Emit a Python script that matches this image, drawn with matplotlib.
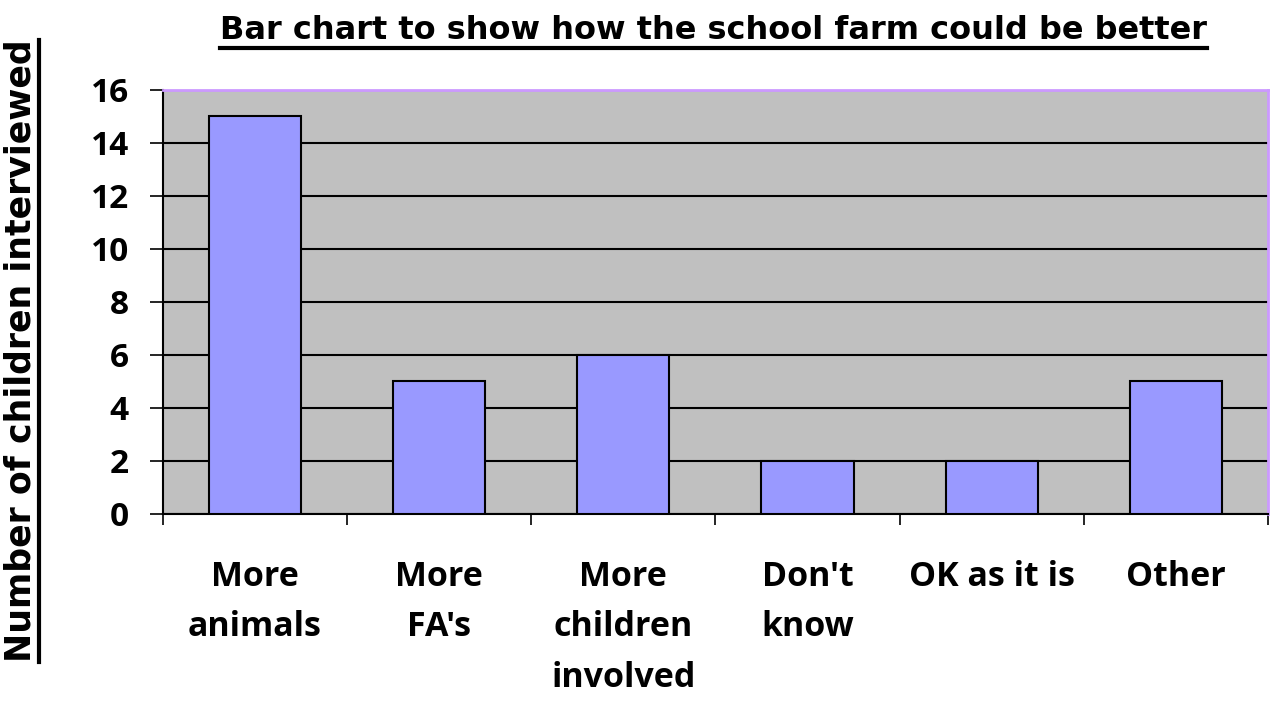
import matplotlib.pyplot as plt
from matplotlib.lines import Line2D

# Data
categories = ["More\nanimals", "More\nFA's", "More\nchildren\ninvolved", "Don't\nknow", "OK as it is", "Other"]
counts = [15, 5, 6, 2, 2, 5]
y_ticks = [0, 2, 4, 6, 8, 10, 12, 14, 16]

fig = plt.figure(figsize=(12.73, 7.02), dpi=100)
ax = fig.add_axes([0.128, 0.268, 0.868, 0.604])
ax.set_facecolor('#C0C0C0')

x = list(range(len(categories)))
ax.bar(x, counts, width=0.5, color='#9999FF', edgecolor='black', linewidth=1.5, zorder=3)

ax.set_xlim(-0.5, len(categories) - 0.5)
ax.set_ylim(0, 16)
ax.set_yticks(y_ticks)
ax.yaxis.grid(True, color='black', linewidth=1.5, zorder=1)
ax.set_axisbelow(True)

# category labels centred, tick marks at the boundaries
ax.set_xticks([i - 0.5 for i in range(len(categories) + 1)], minor=False)
ax.set_xticklabels([])
ax.set_xticks(x, minor=True)
ax.set_xticklabels(categories, minor=True, fontsize=24.5, fontweight='bold',
                   family='Open Sans', linespacing=1.64)
ax.tick_params(axis='x', which='minor', length=0, pad=33)
ax.tick_params(axis='x', which='major', length=8, width=1.2, direction='out')
ax.tick_params(axis='y', length=9.5, width=1.2, pad=15)
for lbl in ax.get_yticklabels():
    lbl.set_fontsize(24)
    lbl.set_fontweight('bold')
    lbl.set_family('Open Sans')

for side in ['left', 'bottom']:
    ax.spines[side].set_color('black')
    ax.spines[side].set_linewidth(1.5)
for side in ['top', 'right']:
    ax.spines[side].set_color('#CC99FF')
    ax.spines[side].set_linewidth(2)

title = fig.text(0.5605, 0.957, "Bar chart to show how the school farm could be better",
                 ha='center', va='center', fontsize=23, fontweight='bold')
ylab = fig.text(0.016, 0.5, "Number of children interviewed", rotation=90,
                ha='center', va='center', fontsize=25, fontweight='bold')

# underline the title and the y label
fig.canvas.draw()
r = fig.canvas.get_renderer()
inv = fig.transFigure.inverted()
bb = title.get_window_extent(r).transformed(inv)
fig.add_artist(Line2D([bb.x0, bb.x1], [bb.y0 - 0.004, bb.y0 - 0.004],
                      transform=fig.transFigure, color='black', linewidth=3))
bb = ylab.get_window_extent(r).transformed(inv)
fig.add_artist(Line2D([bb.x1 + 0.001, bb.x1 + 0.001], [bb.y0, bb.y1],
                      transform=fig.transFigure, color='black', linewidth=3))

plt.savefig('out.png', dpi=100)
